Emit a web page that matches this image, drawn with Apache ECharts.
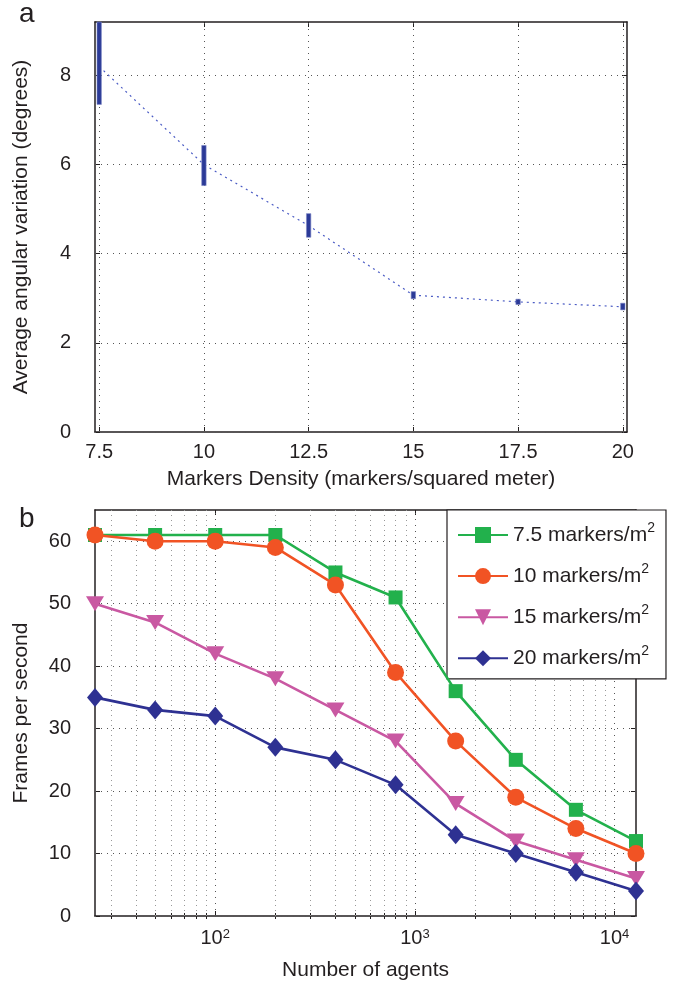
<!DOCTYPE html>
<html><head><meta charset="utf-8">
<script src="https://cdn.jsdelivr.net/npm/echarts@6/dist/echarts.min.js"></script>
<style>html,body{margin:0;padding:0;background:#fff}#c{width:676px;height:987px}</style>
</head><body><div id="c"></div>
<script>
// ---- Panel a data ----
const densities = [7.5, 10, 12.5, 15, 17.5, 20];
const meanVariation = [8.2, 6.0, 4.63, 3.07, 2.92, 2.81];
const lowVariation = [7.35, 5.53, 4.37, 2.99, 2.86, 2.74];
const highVariation = [9.2, 6.43, 4.9, 3.15, 2.98, 2.89];
const aXTicks = [7.5, 10, 12.5, 15, 17.5, 20];
const aYTicks = [0, 2, 4, 6, 8];
// ---- Panel b data ----
const agents = [25, 50, 100, 200, 400, 800, 1600, 3200, 6400, 12800];
const fps75 = [61, 61, 61, 61, 55, 51, 36, 25, 17, 12];
const fps10 = [61, 60, 60, 59, 53, 39, 28, 19, 14, 10];
const fps15 = [50, 47, 42, 38, 33, 28, 18, 12, 9, 6];
const fps20 = [35, 33, 32, 27, 25, 21, 13, 10, 7, 4];
const bXTicks = [100, 1000, 10000];
const bXMinor = [30, 40, 50, 60, 70, 80, 90, 200, 300, 400, 500, 600, 700, 800, 900, 2000, 3000, 4000, 5000, 6000, 7000, 8000, 9000];
const bYTicks = [0, 10, 20, 30, 40, 50, 60];
const seriesNames = ['7.5 markers/m2', '10 markers/m2', '15 markers/m2', '20 markers/m2'];

const FONT = 'Liberation Sans, Arial, Helvetica, sans-serif';
const INK = '#231f20';
const FRAME = { show: true, onZero: false, lineStyle: { color: INK, width: 1.5 } };
const gridLineStyle = { color: '#555', type: [1, 5], width: 1 };
const minorLineStyle = { color: '#999', type: [1, 4], width: 1 };

const chart = echarts.init(document.getElementById('c'), null, { renderer: 'canvas' });

function tickCfg(vals, len) {
  return { show: true, inside: true, length: len, customValues: vals, lineStyle: { color: INK, width: 1 } };
}
const supLabel = {
  color: INK,
  rich: {
    b: { fontFamily: FONT, fontSize: 20, color: INK, lineHeight: 20 },
    s: { fontFamily: FONT, fontSize: 13, color: INK, verticalAlign: 'top', lineHeight: 13 }
  }
};

const option = {
  animation: false,
  backgroundColor: '#fff',
  textStyle: { fontFamily: FONT, color: INK },
  title: [
    { text: 'a', left: 14, top: -5, textStyle: { fontFamily: FONT, fontSize: 28, fontWeight: 'normal', color: INK } },
    { text: 'b', left: 14, top: 500, textStyle: { fontFamily: FONT, fontSize: 28, fontWeight: 'normal', color: INK } }
  ],
  grid: [
    { left: 95, top: 22, width: 532, height: 410, containLabel: false, outerBoundsMode: 'none' },
    { left: 95, top: 510, width: 541, height: 406, containLabel: false, outerBoundsMode: 'none' }
  ],
  legend: {
    data: seriesNames,
    orient: 'vertical',
    left: 447, top: 510,
    padding: [11, 11, 10, 10],
    itemWidth: 50, itemHeight: 20, itemGap: 16.6,
    backgroundColor: '#fff',
    borderColor: INK, borderWidth: 1.2, borderRadius: 0,
    symbolRotate: 'inherit',
    selectedMode: false,
    formatter: n => '{b|' + n.slice(0, -1) + '}{s|' + n.slice(-1) + '}',
    textStyle: {
      color: INK,
      rich: {
        b: { fontFamily: FONT, fontSize: 21, color: INK, lineHeight: 28 },
        s: { fontFamily: FONT, fontSize: 14, color: INK, verticalAlign: 'top', lineHeight: 14 }
      }
    }
  },
  xAxis: [
    { // a bottom
      type: 'value', gridIndex: 0, min: 7.4, max: 20.1, position: 'bottom',
      axisLine: FRAME, axisTick: tickCfg(aXTicks, 5),
      axisLabel: { customValues: aXTicks, margin: 10, fontSize: 20, fontFamily: FONT, color: INK },
      splitLine: { show: false },
      name: 'Markers Density (markers/squared meter)', nameLocation: 'middle', nameGap: 37, nameMoveOverlap: false,
      nameTextStyle: { fontSize: 21, fontFamily: FONT, color: INK }
    },
    { // a top
      type: 'value', gridIndex: 0, min: 7.4, max: 20.1, position: 'top',
      axisLine: FRAME, axisTick: tickCfg(aXTicks, 5), axisLabel: { show: false }, splitLine: { show: false }
    },
    { // b bottom
      type: 'log', logBase: 10, gridIndex: 1, min: 25, max: 12800, position: 'bottom',
      axisLine: FRAME, axisTick: tickCfg(bXTicks, 5),
      axisLabel: {
        customValues: bXTicks, margin: 12, fontFamily: FONT, ...supLabel,
        formatter: v => '{b|10}{s|' + Math.round(Math.log10(v)) + '}'
      },
      splitLine: { show: false }, minorTick: { show: false }, minorSplitLine: { show: false },
      name: 'Number of agents', nameLocation: 'middle', nameGap: 44, nameMoveOverlap: false,
      nameTextStyle: { fontSize: 21, fontFamily: FONT, color: INK }
    },
    { // b top
      type: 'log', logBase: 10, gridIndex: 1, min: 25, max: 12800, position: 'top',
      axisLine: FRAME, axisTick: tickCfg(bXTicks, 5), axisLabel: { show: false }, splitLine: { show: false }
    },
    { // b bottom minor ticks
      type: 'log', logBase: 10, gridIndex: 1, min: 25, max: 12800, position: 'bottom',
      axisLine: { show: false }, axisTick: tickCfg(bXMinor, 3), axisLabel: { show: false }, splitLine: { show: false }
    },
    { // b top minor ticks
      type: 'log', logBase: 10, gridIndex: 1, min: 25, max: 12800, position: 'top',
      axisLine: { show: false }, axisTick: tickCfg(bXMinor, 3), axisLabel: { show: false }, splitLine: { show: false }
    }
  ],
  yAxis: [
    { // a left
      type: 'value', gridIndex: 0, min: 0, max: 9.2, position: 'left',
      axisLine: FRAME, axisTick: tickCfg(aYTicks, 5),
      axisLabel: { customValues: aYTicks, margin: 24, fontSize: 20, fontFamily: FONT, color: INK },
      splitLine: { show: false },
      name: 'Average angular variation (degrees)', nameLocation: 'middle', nameGap: 63, nameMoveOverlap: false,
      nameTextStyle: { fontSize: 21, fontFamily: FONT, color: INK }
    },
    { // a right
      type: 'value', gridIndex: 0, min: 0, max: 9.2, position: 'right',
      axisLine: FRAME, axisTick: tickCfg(aYTicks, 5), axisLabel: { show: false }, splitLine: { show: false }
    },
    { // b left
      type: 'value', gridIndex: 1, min: 0, max: 65, position: 'left',
      axisLine: FRAME, axisTick: tickCfg(bYTicks, 5),
      axisLabel: { customValues: bYTicks, margin: 24, fontSize: 20, fontFamily: FONT, color: INK },
      splitLine: { show: false },
      name: 'Frames per second', nameLocation: 'middle', nameGap: 63, nameMoveOverlap: false,
      nameTextStyle: { fontSize: 21, fontFamily: FONT, color: INK }
    },
    { // b right
      type: 'value', gridIndex: 1, min: 0, max: 65, position: 'right',
      axisLine: FRAME, axisTick: tickCfg(bYTicks, 5), axisLabel: { show: false }, splitLine: { show: false }
    }
  ],
  series: [
    { // gridlines a
      type: 'line', xAxisIndex: 0, yAxisIndex: 0, data: [], silent: true, z: 1,
      markLine: {
        silent: true, symbol: ['none', 'none'], label: { show: false }, animation: false, z: 1,
        lineStyle: gridLineStyle, emphasis: { disabled: true },
        data: aXTicks.map(v => ({ xAxis: v })).concat(aYTicks.map(v => ({ yAxis: v })))
      }
    },
    { // gridlines b
      type: 'line', xAxisIndex: 2, yAxisIndex: 2, data: [], silent: true, z: 1,
      markLine: {
        silent: true, symbol: ['none', 'none'], label: { show: false }, animation: false, z: 1,
        lineStyle: minorLineStyle, emphasis: { disabled: true },
        data: bXMinor.map(v => ({ xAxis: v, lineStyle: minorLineStyle }))
          .concat(bXTicks.map(v => ({ xAxis: v, lineStyle: gridLineStyle })))
          .concat(bYTicks.map(v => ({ yAxis: v, lineStyle: gridLineStyle })))
      }
    },
    { // mean line a
      name: 'mean', type: 'line', xAxisIndex: 0, yAxisIndex: 0, z: 5,
      data: densities.map((d, i) => [d, meanVariation[i]]),
      showSymbol: false, symbol: 'none', clip: false,
      lineStyle: { color: '#4a5bc4', width: 1.2, type: [2, 4] }
    },
    { // error bars a
      name: 'range', type: 'custom', xAxisIndex: 0, yAxisIndex: 0, z: 6,
      data: densities.map((d, i) => [d, lowVariation[i], highVariation[i]]),
      encode: { x: 0, y: [1, 2] },
      renderItem: (params, api) => {
        const top = api.coord([api.value(0), api.value(2)]);
        const bot = api.coord([api.value(0), api.value(1)]);
        return { type: 'rect', shape: { x: top[0] - 2.2, y: top[1], width: 4.4, height: bot[1] - top[1] },
          style: { fill: '#2b3a97', stroke: '#7d87c6', lineWidth: 0.6 } };
      }
    },
    {
      name: seriesNames[0], type: 'line', xAxisIndex: 2, yAxisIndex: 2, z: 5, clip: false,
      data: agents.map((a, i) => [a, fps75[i]]),
      symbol: 'rect', symbolSize: [14, 14],
      lineStyle: { color: '#22b14c', width: 2.6 }, itemStyle: { color: '#22b14c', borderWidth: 0 }
    },
    {
      name: seriesNames[1], type: 'line', xAxisIndex: 2, yAxisIndex: 2, z: 5, clip: false,
      data: agents.map((a, i) => [a, fps10[i]]),
      symbol: 'circle', symbolSize: 17,
      lineStyle: { color: '#f15324', width: 2.6 }, itemStyle: { color: '#f15324', borderWidth: 0 }
    },
    {
      name: seriesNames[2], type: 'line', xAxisIndex: 2, yAxisIndex: 2, z: 5, clip: false,
      data: agents.map((a, i) => [a, fps15[i]]),
      symbol: 'triangle', symbolRotate: 180, symbolSize: [18, 15],
      lineStyle: { color: '#c958a2', width: 2.6 }, itemStyle: { color: '#c958a2', borderWidth: 0 }
    },
    {
      name: seriesNames[3], type: 'line', xAxisIndex: 2, yAxisIndex: 2, z: 5, clip: false,
      data: agents.map((a, i) => [a, fps20[i]]),
      symbol: 'diamond', symbolSize: [16, 19],
      lineStyle: { color: '#2e3192', width: 2.6 }, itemStyle: { color: '#2e3192', borderWidth: 0 }
    }
  ]
};
chart.setOption(option);
</script></body></html>
